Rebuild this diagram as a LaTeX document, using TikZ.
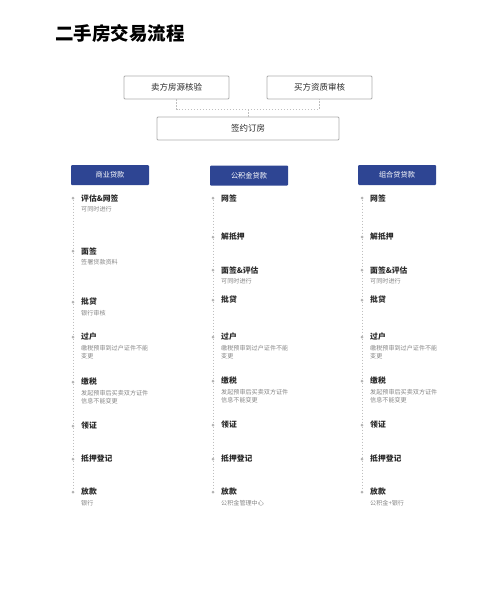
\documentclass[tikz,border=0pt]{standalone}
\usepackage{fontspec}
\usepackage{tikz}
\usetikzlibrary{calc}
\usepackage{xcolor}
\newfontfamily\cjk{Noto Sans CJK SC}
\definecolor{navy}{HTML}{2E4593}
\definecolor{ink}{HTML}{2A2A2A}
\definecolor{note}{HTML}{858585}

\tikzset{
  flowbox/.style={draw=gray!65, line width=0.9pt, rounded corners=1pt, minimum height=23pt,
    text=ink, font=\cjk\fontsize{8.5}{10}\selectfont},
  loanbox/.style={fill=navy, rounded corners=1pt, minimum width=78pt, minimum height=20pt,
    text=white, font=\cjk\fontsize{7.2}{9}\selectfont},
  dot/.style={circle, fill=gray!60, inner sep=0pt, minimum size=3pt},
  stage/.style={anchor=west, inner sep=0pt, text=ink, font=\cjk\bfseries\fontsize{7.8}{9}\selectfont},
  memo/.style={anchor=north west, inner sep=0pt, align=left, text=note,
    font=\cjk\fontsize{6.1}{8}\selectfont},
  track/.style={gray!50, line width=0.6pt, dash pattern=on 1.5pt off 1.5pt},
}

\begin{document}
\begin{tikzpicture}[x=1pt, y=-1pt]
    \useasboundingbox (0, 0) rectangle (500, 608);

    \node[anchor=west, inner sep=0pt, font=\cjk\bfseries\fontsize{18.5}{22}\selectfont] (title) at (55, 33) {二手房交易流程};

    \node[flowbox, minimum width=105pt] (seller) at (176.5, 87.5) {卖方房源核验};
    \node[flowbox, minimum width=105pt] (buyer) at (319.5, 87.5) {买方资质审核};
    \node[flowbox, minimum width=182pt] (sign) at (248, 128.5) {签约订房};
    \coordinate (j) at (248, 109);

  \draw[track] (seller.south) |- (j) -| (buyer.south);
  \draw[track] (j) -- (sign.north);

    \node[loanbox] (a) at (110, 175) {商业贷款};
    \node[loanbox] (b) at (249, 175.5) {公积金贷款};
    \node[loanbox] (c) at (397, 175) {组合贷贷款};

    % 商业贷款
    \node[dot] (a1) at (73, 198) {};
    \node[dot] (a2) at (73, 251) {};
    \node[dot] (a3) at (73, 302) {};
    \node[dot] (a4) at (73, 337) {};
    \node[dot] (a5) at (73, 382) {};
    \node[dot] (a6) at (73, 426) {};
    \node[dot] (a7) at (73, 459) {};
    \node[dot] (a8) at (73, 492) {};

    \node[stage] (ta1) at (81, 198) {评估\&网签};
    \node[memo] (na1) at (81, 206) {可同时进行};
    \node[stage] (ta2) at (81, 251) {面签};
    \node[memo] (na2) at (81, 259) {签署贷款资料};
    \node[stage] (ta3) at (81, 302) {批贷};
    \node[memo] (na3) at (81, 310) {银行审核};
    \node[stage] (ta4) at (81, 337) {过户};
    \node[memo] (na4) at (81, 345) {缴税预审到过户证件不能\\变更};
    \node[stage] (ta5) at (81, 382) {缴税};
    \node[memo] (na5) at (81, 390) {发起预审后买卖双方证件\\信息不能变更};
    \node[stage] (ta6) at (81, 426) {领证};
    \node[stage] (ta7) at (81, 459) {抵押登记};
    \node[stage] (ta8) at (81, 492) {放款};
    \node[memo] (na8) at (81, 500) {银行};

    % 公积金贷款
    \node[dot] (b1) at (213, 198) {};
    \node[dot] (b2) at (213, 237) {};
    \node[dot] (b3) at (213, 270) {};
    \node[dot] (b4) at (213, 300) {};
    \node[dot] (b5) at (213, 337) {};
    \node[dot] (b6) at (213, 381) {};
    \node[dot] (b7) at (213, 425) {};
    \node[dot] (b8) at (213, 459) {};
    \node[dot] (b9) at (213, 492) {};

    \node[stage] (tb1) at (221, 198) {网签};
    \node[stage] (tb2) at (221, 237) {解抵押};
    \node[stage] (tb3) at (221, 270) {面签\&评估};
    \node[memo] (nb3) at (221, 278) {可同时进行};
    \node[stage] (tb4) at (221, 300) {批贷};
    \node[stage] (tb5) at (221, 337) {过户};
    \node[memo] (nb5) at (221, 345) {缴税预审到过户证件不能\\变更};
    \node[stage] (tb6) at (221, 381) {缴税};
    \node[memo] (nb6) at (221, 389) {发起预审后买卖双方证件\\信息不能变更};
    \node[stage] (tb7) at (221, 425) {领证};
    \node[stage] (tb8) at (221, 459) {抵押登记};
    \node[stage] (tb9) at (221, 492) {放款};
    \node[memo] (nb9) at (221, 500) {公积金管理中心};

    % 组合贷贷款
    \node[dot] (c1) at (362, 198) {};
    \node[dot] (c2) at (362, 237) {};
    \node[dot] (c3) at (362, 270) {};
    \node[dot] (c4) at (362, 300) {};
    \node[dot] (c5) at (362, 337) {};
    \node[dot] (c6) at (362, 381) {};
    \node[dot] (c7) at (362, 425) {};
    \node[dot] (c8) at (362, 459) {};
    \node[dot] (c9) at (362, 492) {};

    \node[stage] (tc1) at (370, 198) {网签};
    \node[stage] (tc2) at (370, 237) {解抵押};
    \node[stage] (tc3) at (370, 270) {面签\&评估};
    \node[memo] (nc3) at (370, 278) {可同时进行};
    \node[stage] (tc4) at (370, 300) {批贷};
    \node[stage] (tc5) at (370, 337) {过户};
    \node[memo] (nc5) at (370, 345) {缴税预审到过户证件不能\\变更};
    \node[stage] (tc6) at (370, 381) {缴税};
    \node[memo] (nc6) at (370, 389) {发起预审后买卖双方证件\\信息不能变更};
    \node[stage] (tc7) at (370, 425) {领证};
    \node[stage] (tc8) at (370, 459) {抵押登记};
    \node[stage] (tc9) at (370, 492) {放款};
    \node[memo] (nc9) at (370, 500) {公积金+银行};

  \draw[track] (a1) -- (a2) -- (a3) -- (a4) -- (a5) -- (a6) -- (a7) -- (a8);
  \draw[track] (b1) -- (b2) -- (b3) -- (b4) -- (b5) -- (b6) -- (b7) -- (b8) -- (b9);
  \draw[track] (c1) -- (c2) -- (c3) -- (c4) -- (c5) -- (c6) -- (c7) -- (c8) -- (c9);
 \end{tikzpicture}
\end{document}
